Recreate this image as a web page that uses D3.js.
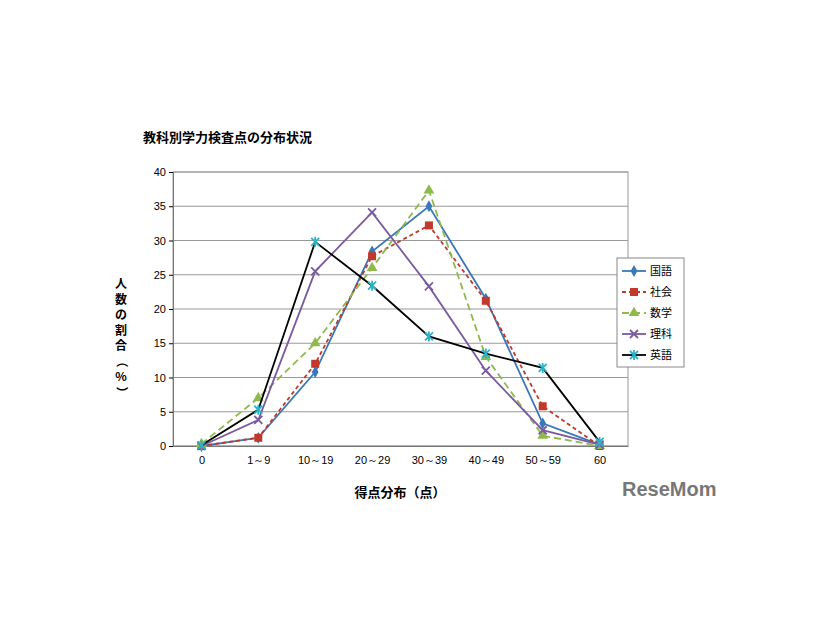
<!DOCTYPE html>
<html><head><meta charset="utf-8">
<script src="https://cdn.jsdelivr.net/npm/d3@7"></script>
<style>body{margin:0;background:#fff;font-family:"Noto Sans CJK JP",sans-serif}</style>
</head><body><svg id="c" width="826" height="620"></svg>
<script>
var categories = ["0","1～9","10～19","20～29","30～39","40～49","50～59","60"]
var kokugo = [0, 1.2, 10.8, 28.4, 35, 21.5, 3.3, 0.2]
var shakai = [0, 1.2, 12, 27.7, 32.2, 21.2, 5.8, 0]
var sugaku = [0.3, 7, 15, 26, 37.3, 13, 1.5, 0]
var rika = [0, 3.8, 25.5, 34.1, 23.3, 11, 2.3, 0.2]
var eigo = [0.1, 5.3, 29.8, 23.4, 16, 13.5, 11.4, 0.6]
var yTicks = [0,5,10,15,20,25,30,35,40]

var series = [
  {name:"国語", v:kokugo, color:"#3a77b8", dash:null, mark:"diamond", mcol:"#3a77b8"},
  {name:"社会", v:shakai, color:"#c0392b", dash:"4,3", mark:"square", mcol:"#c0392b"},
  {name:"数学", v:sugaku, color:"#8fb94b", dash:"7,4", mark:"triangle", mcol:"#8fb94b"},
  {name:"理科", v:rika, color:"#7a5aa0", dash:null, mark:"x", mcol:"#7a5aa0"},
  {name:"英語", v:eigo, color:"#000", dash:null, mark:"star", mcol:"#2ab3c8"}
]

var svg = d3.select("#c")
var L=173, R=628, T=172, B=446
var x = d3.scalePoint().domain(categories).range([L,R]).padding(0.5)
var y = d3.scaleLinear().domain([0,40]).range([B,T])

svg.append("text").attr("x",143).attr("y",142).attr("font-size",13).attr("font-weight","bold").text("教科別学力検査点の分布状況")

svg.selectAll(".g").data(yTicks).enter().append("line")
  .attr("x1",L).attr("x2",R).attr("y1",d=>y(d)).attr("y2",d=>y(d)).attr("stroke","#999")
svg.append("rect").attr("x",L).attr("y",T).attr("width",R-L).attr("height",B-T).attr("fill","none").attr("stroke","#999")

var ya = svg.append("g").attr("transform","translate("+L+",0)").call(d3.axisLeft(y).tickValues(yTicks).tickSize(4))
ya.select(".domain").attr("stroke","#777")
ya.selectAll("text").attr("font-size",11).attr("font-family","Liberation Sans")
var xa = svg.append("g").attr("transform","translate(0,"+B+")").call(d3.axisBottom(x).tickSize(0).tickPadding(10))
xa.select(".domain").attr("stroke","#777")
xa.selectAll("text").attr("font-size",11).attr("font-family","Liberation Sans")

var line = d3.line().x((d,i)=>x(categories[i])).y(d=>y(d))
function marker(g, type, col){
  if(type=="diamond") g.append("path").attr("d",d3.symbol(d3.symbolDiamond,40)()).attr("fill",col)
  if(type=="square") g.append("rect").attr("x",-4).attr("y",-4).attr("width",8).attr("height",8).attr("fill",col)
  if(type=="triangle") g.append("path").attr("d",d3.symbol(d3.symbolTriangle,50)()).attr("fill",col)
  if(type=="x") g.append("path").attr("d","M-4,-4L4,4M-4,4L4,-4").attr("stroke",col).attr("stroke-width",1.8)
  if(type=="star") g.append("path").attr("d","M-4,-4L4,4M-4,4L4,-4M0,-5L0,5").attr("stroke",col).attr("stroke-width",1.8)
}
series.forEach(function(s){
  svg.append("path").attr("d",line(s.v)).attr("fill","none").attr("stroke",s.color).attr("stroke-width",1.8).attr("stroke-dasharray",s.dash)
  s.v.forEach(function(d,i){
    marker(svg.append("g").attr("transform","translate("+x(categories[i])+","+y(d)+")"), s.mark, s.mcol)
  })
})

var lg = svg.append("g")
lg.append("rect").attr("x",617).attr("y",258).attr("width",67).attr("height",109).attr("fill","#fff").attr("stroke","#888")
series.forEach(function(s,i){
  var yy = 271+i*21
  lg.append("line").attr("x1",622).attr("x2",646).attr("y1",yy).attr("y2",yy).attr("stroke",s.color).attr("stroke-width",1.8).attr("stroke-dasharray",s.dash)
  marker(lg.append("g").attr("transform","translate(634,"+yy+")"), s.mark, s.mcol)
  lg.append("text").attr("x",650).attr("y",yy+4).attr("font-size",11).text(s.name)
})

var yl = ["人","数","の","割","合","（","%","）"]
yl.forEach(function(c,i){
  svg.append("text").attr("x",121).attr("y",288+i*15.5).attr("text-anchor","middle").attr("font-size",12).attr("font-weight","bold")
    .attr("transform",(c=="（"||c=="）")?"rotate(90,121,"+(284+i*15.5)+")":null).text(c)
})
svg.append("text").attr("x",400).attr("y",497).attr("text-anchor","middle").attr("font-size",13).attr("font-weight","bold").text("得点分布（点）")
svg.append("text").attr("x",622).attr("y",496).attr("font-size",20).attr("font-weight","bold").attr("font-family","Liberation Sans").attr("fill","#777").text("ReseMom")
</script></body></html>
